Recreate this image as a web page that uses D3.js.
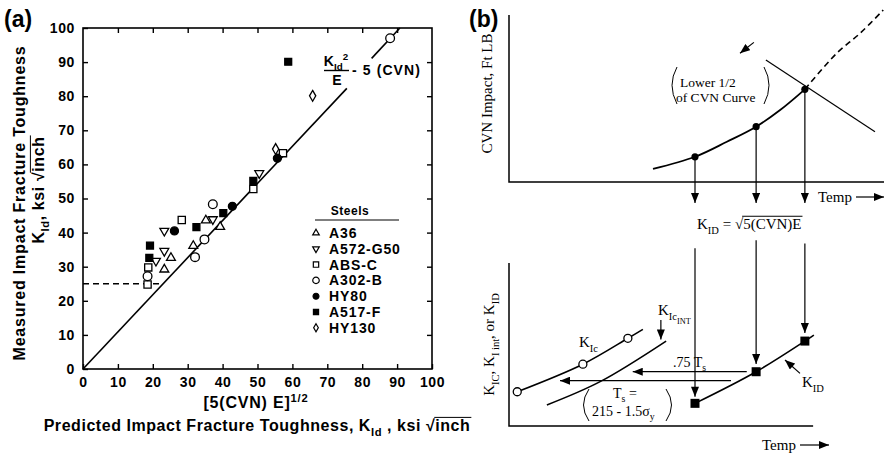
<!DOCTYPE html>
<html>
<head>
<meta charset="utf-8">
<script src="https://cdn.jsdelivr.net/npm/d3@7"></script>
<style>
body { margin: 0; background: #fff; }
svg text { fill: #000; white-space: pre; }
.sans { font-family: "Liberation Sans", Arial, sans-serif; font-weight: bold; }
.serif { font-family: "Liberation Serif", "Times New Roman", serif; }
</style>
</head>
<body>
<svg id="chart" width="884" height="453"></svg>
<script>
// ---- panel (a) data: measured vs predicted K_Id ----
const steels = ['A36', 'A572-G50', 'ABS-C', 'A302-B', 'HY80', 'A517-F', 'HY130'];
const a36 = [[35.2, 43.6], [39.3, 41.7], [31.6, 36.1], [25.2, 32.6], [23.3, 29.2]];
const a572 = [[23.3, 40.5], [37.2, 43.9], [23.3, 34.6], [20.9, 31.7], [50.5, 57.4]];
const absC = [[28.3, 43.7], [48.8, 52.8], [18.7, 29.8], [18.5, 24.8], [57.3, 63.3]];
const a302 = [[37.2, 48.3], [34.8, 38.0], [32.1, 32.8], [18.5, 27.2], [88.0, 97.0]];
const hy80 = [[26.2, 40.5], [42.8, 47.7], [55.7, 61.8]];
const a517 = [[32.5, 41.6], [40.2, 45.7], [48.8, 55.2], [19.2, 36.2], [19.0, 32.6], [58.8, 90.1]];
const hy130 = [[65.8, 80.1], [55.2, 64.5]];
const fitLine = [[0, 0], [75.6, 82.3]];
const fitLine2 = [[82.7, 91.1], [90.8, 100]];
const dashLine = [[0, 25], [22.5, 25]];
const ticksA = [0, 10, 20, 30, 40, 50, 60, 70, 80, 90, 100];

// ---- panel (b) schematic data (arbitrary temp / value units 0-100) ----
const cvnSolid = [[38.4, 7.8], [49.6, 15.1], [58.1, 24.1], [65.9, 33.1], [72.3, 43.1], [78.9, 55.5]];
const cvnDashed = [[78.9, 55.5], [87.4, 77.1], [93.6, 89.0], [99.8, 103]];
const shelfLine = [[68.5, 73.1], [97.6, 30.1]];
const cvnPoints = [[49.6, 15.1], [65.9, 33.1], [78.9, 55.5]];
const cvnArrowEnd = -12.6;
const lowerArrow = [[65.3, 83.6], [61.6, 77.1]];

const kidLine = [[49.6, 13.9], [65.9, 33.3], [78.9, 52.1], [81.3, 55.8]];
const kidSquares = [[49.6, 13.9], [65.9, 33.3], [78.9, 52.1]];
const kidArrowStart = [109, 114, 112];
const kidArrowEnd = [18, 38, 57];
const kicCurve = [[2.2, 21.0], [19.7, 37.9], [31.7, 53.8], [35.7, 59.3]];
const kicCircles = [[2.2, 21.0], [19.7, 37.9], [31.7, 53.8]];
const kicIntCurve = [[10.1, 12.9], [24.3, 27.2], [41.9, 52.1]];
const kicIntArrow = [[40.5, 65], [40.5, 53]];
const shiftArrows = [[[63.4, 33.3], [33.0, 33.3]], [[59.2, 27.8], [13.6, 27.8]]];
const kidLabelArrow = [[77.6, 32.3], [73.6, 40.5]];

const svg = d3.select('#chart');

// arrowhead
svg.append('defs').append('marker')
	.attr('id', 'head')
	.attr('viewBox', '0 0 10 8')
	.attr('refX', 10).attr('refY', 4)
	.attr('markerWidth', 11).attr('markerHeight', 8)
	.attr('markerUnits', 'userSpaceOnUse')
	.attr('orient', 'auto')
	.append('path').attr('d', 'M0,0L10,4L0,8Z').attr('fill', '#000');

// text with sub / superscripts
function richText(g, x, y, parts, cls, size, anchor, spacing) {
	const t = g.append('text').attr('x', x).attr('y', y)
		.attr('class', cls).attr('font-size', size)
		.attr('text-anchor', anchor || 'start')
		.attr('letter-spacing', spacing || 0);
	let shift = 0;
	parts.forEach(p => {
		const s = typeof p === 'string' ? p : p[0];
		const kind = typeof p === 'string' ? 'n' : p[1];
		const target = kind === 'sub' ? size * 0.3 : kind === 'sup' ? -size * 0.4 : kind === 'subsub' ? size * 0.6 : 0;
		const ts = t.append('tspan').text(s).attr('dy', target - shift);
		if (kind === 'sub' || kind === 'sup') ts.attr('font-size', size * 0.7);
		if (kind === 'subsub') ts.attr('font-size', size * 0.55);
		if (kind === 'over') ts.attr('class', 'over');
		shift = target;
	});
	return t;
}

// draw overline above tspans marked "over"
function overline(g, t, size) {
	t.selectAll('tspan.over').each(function() {
		const n = this.getNumberOfChars();
		const a = this.getStartPositionOfChar(0);
		const b = this.getEndPositionOfChar(n - 1);
		g.append('line')
			.attr('x1', a.x - 1).attr('x2', b.x + 1)
			.attr('y1', a.y - size * 0.85).attr('y2', a.y - size * 0.85)
			.attr('stroke', '#000').attr('stroke-width', 1);
	});
}

// ================= panel (a) =================
const xA = d3.scaleLinear().domain([0, 100]).range([83, 432]);
const yA = d3.scaleLinear().domain([0, 100]).range([369, 28]);
const ga = svg.append('g');

ga.append('rect')
	.attr('x', xA(0)).attr('y', yA(100))
	.attr('width', xA(100) - xA(0)).attr('height', yA(0) - yA(100))
	.attr('fill', 'none').attr('stroke', '#000').attr('stroke-width', 1.6);

ga.append('g').attr('transform', `translate(0,${yA(0)})`)
	.call(d3.axisBottom(xA).tickValues(ticksA).tickSizeInner(-5).tickSizeOuter(0).tickPadding(8));
ga.append('g').attr('transform', `translate(${xA(0)},0)`)
	.call(d3.axisLeft(yA).tickValues(ticksA).tickSizeInner(-5).tickSizeOuter(0).tickPadding(8));
ga.append('g').attr('transform', `translate(0,${yA(100)})`)
	.call(d3.axisTop(xA).tickValues(ticksA.slice(1, -1)).tickSizeInner(-5).tickSizeOuter(0).tickFormat(''));
ga.append('g').attr('transform', `translate(${xA(100)},0)`)
	.call(d3.axisRight(yA).tickValues(ticksA.slice(1, -1)).tickSizeInner(-5).tickSizeOuter(0).tickFormat(''));
ga.selectAll('.domain').remove();
ga.selectAll('.tick line').attr('stroke', '#000').attr('stroke-width', 1.4);
ga.selectAll('.tick text')
	.attr('class', 'sans').attr('font-size', 14).attr('letter-spacing', 0.6).attr('fill', '#000');

const lineA = d3.line().x(d => xA(d[0])).y(d => yA(d[1]));
ga.append('path').attr('d', lineA(fitLine)).attr('fill', 'none').attr('stroke', '#000').attr('stroke-width', 1.6);
ga.append('path').attr('d', lineA(fitLine2)).attr('fill', 'none').attr('stroke', '#000').attr('stroke-width', 1.6);
ga.append('path').attr('d', lineA(dashLine)).attr('fill', 'none').attr('stroke', '#000')
	.attr('stroke-width', 1.4).attr('stroke-dasharray', '6,4');

const seriesA = [a36, a572, absC, a302, hy80, a517, hy130];
const symType = [d3.symbolTriangle, d3.symbolTriangle, d3.symbolSquare, d3.symbolCircle, d3.symbolCircle, d3.symbolSquare, d3.symbolDiamond];
const symFill = [false, false, false, false, true, true, false];
const symRot = [0, 180, 0, 0, 0, 0, 0];
const symSize = [34, 34, 52, 60, 50, 48, 34];

seriesA.forEach((pts, i) => {
	ga.selectAll(null).data(pts).enter().append('path')
		.attr('d', d3.symbol().type(symType[i]).size(symSize[i]))
		.attr('transform', d => `translate(${xA(d[0])},${yA(d[1])}) rotate(${symRot[i]})`)
		.attr('fill', symFill[i] ? '#000' : '#fff')
		.attr('stroke', '#000').attr('stroke-width', 1.3);
});

// legend
const lg = ga.append('g');
lg.append('text').attr('class', 'sans').attr('font-size', 12).attr('letter-spacing', 0.5)
	.attr('x', 350).attr('y', 215).attr('text-anchor', 'middle').text('Steels');
lg.append('line').attr('x1', 315).attr('x2', 399).attr('y1', 220).attr('y2', 220)
	.attr('stroke', '#000').attr('stroke-width', 1.2);
steels.forEach((s, i) => {
	const y = 233 + i * 15.8;
	lg.append('path')
		.attr('d', d3.symbol().type(symType[i]).size(symSize[i] * 0.55))
		.attr('transform', `translate(316,${y}) rotate(${symRot[i]})`)
		.attr('fill', symFill[i] ? '#000' : '#fff')
		.attr('stroke', '#000').attr('stroke-width', 1.2);
	lg.append('text').attr('class', 'sans').attr('font-size', 14).attr('letter-spacing', 0.9)
		.attr('x', 329).attr('y', y + 5).text(s);
});

// equation label
richText(ga, 336, 66, ['K', ['Id', 'sub'], ['2', 'sup']], 'sans', 14, 'middle');
ga.append('line').attr('x1', 324).attr('x2', 349).attr('y1', 70.5).attr('y2', 70.5)
	.attr('stroke', '#000').attr('stroke-width', 1.4);
ga.append('text').attr('class', 'sans').attr('font-size', 14).attr('x', 337).attr('y', 85)
	.attr('text-anchor', 'middle').text('E');
ga.append('text').attr('class', 'sans').attr('font-size', 14).attr('letter-spacing', 1.1)
	.attr('x', 352).attr('y', 75).text('- 5 (CVN)');

// axis titles
ga.append('text').attr('class', 'sans').attr('font-size', 23).attr('x', 4).attr('y', 27).text('(a)');
ga.append('text').attr('class', 'sans').attr('font-size', 16).attr('letter-spacing', 0.8)
	.attr('transform', 'translate(25,203) rotate(-90)').attr('text-anchor', 'middle')
	.text('Measured Impact Fracture Toughness');
const yt2g = ga.append('g').attr('transform', 'translate(44,190) rotate(-90)');
const yt2 = richText(yt2g, 0, 0, ['K', ['Id', 'sub'], [', ksi √', 'n'], ['inch', 'over']], 'sans', 16, 'middle', 0.6);
overline(yt2g, yt2, 16);

richText(ga, 256, 408, ['[5(CVN) E]', ['1/2', 'sup']], 'sans', 16, 'middle', 0.8);
const xt2 = richText(ga, 257, 431, ['Predicted Impact Fracture Toughness, K', ['Id', 'sub'], [' , ksi √', 'n'], ['inch', 'over']], 'sans', 16, 'middle', 0.55);
overline(ga, xt2, 16);

// ================= panel (b) =================
const xB = d3.scaleLinear().domain([0, 100]).range([509, 884]);
const yB1 = d3.scaleLinear().domain([0, 100]).range([182, 15]);
const yB2 = d3.scaleLinear().domain([0, 100]).range([426, 263]);
const gb = svg.append('g');

gb.append('text').attr('class', 'sans').attr('font-size', 23).attr('x', 469).attr('y', 27).text('(b)');

// top plot frame
gb.append('path').attr('d', d3.line()([[xB(0), yB1(100)], [xB(0), yB1(0)], [xB(100), yB1(0)]]))
	.attr('fill', 'none').attr('stroke', '#000').attr('stroke-width', 1.5);
gb.append('text').attr('class', 'serif').attr('font-size', 15)
	.attr('transform', `translate(492,${yB1(53)}) rotate(-90)`).attr('text-anchor', 'middle')
	.text('CVN Impact, Ft LB');
gb.append('text').attr('class', 'serif').attr('font-size', 15).attr('x', 818).attr('y', 202).text('Temp');
gb.append('line').attr('x1', 856).attr('x2', 884).attr('y1', 197).attr('y2', 197)
	.attr('stroke', '#000').attr('stroke-width', 1.2).attr('marker-end', 'url(#head)');

const lineB1 = d3.line().x(d => xB(d[0])).y(d => yB1(d[1]));
gb.append('path').attr('d', lineB1.curve(d3.curveCatmullRom)(cvnSolid))
	.attr('fill', 'none').attr('stroke', '#000').attr('stroke-width', 1.8);
gb.append('path').attr('d', lineB1.curve(d3.curveCatmullRom)(cvnDashed))
	.attr('fill', 'none').attr('stroke', '#000').attr('stroke-width', 1.6).attr('stroke-dasharray', '6,4');
gb.append('path').attr('d', lineB1.curve(d3.curveLinear)(shelfLine))
	.attr('fill', 'none').attr('stroke', '#000').attr('stroke-width', 1.2);

cvnPoints.forEach(d => {
	gb.append('line')
		.attr('x1', xB(d[0])).attr('x2', xB(d[0]))
		.attr('y1', yB1(d[1])).attr('y2', yB1(cvnArrowEnd))
		.attr('stroke', '#000').attr('stroke-width', 1.2).attr('marker-end', 'url(#head)');
});
gb.selectAll(null).data(cvnPoints).enter().append('circle')
	.attr('cx', d => xB(d[0])).attr('cy', d => yB1(d[1])).attr('r', 3.6).attr('fill', '#000');

gb.append('line')
	.attr('x1', xB(lowerArrow[0][0])).attr('y1', yB1(lowerArrow[0][1]))
	.attr('x2', xB(lowerArrow[1][0])).attr('y2', yB1(lowerArrow[1][1]))
	.attr('stroke', '#000').attr('stroke-width', 1.2).attr('marker-end', 'url(#head)');
gb.append('text').attr('class', 'serif').attr('font-size', 13.5).attr('x', 680).attr('y', 87).text('Lower 1/2');
gb.append('text').attr('class', 'serif').attr('font-size', 13.5).attr('x', 676).attr('y', 102).text('of CVN Curve');
gb.append('path').attr('d', 'M677,67 Q667,85 677,104').attr('fill', 'none').attr('stroke', '#000');
gb.append('path').attr('d', 'M764,67 Q774,85 764,104').attr('fill', 'none').attr('stroke', '#000');

const kt = richText(gb, 697, 229, ['K', ['ID', 'sub'], [' = √', 'n'], ['5(CVN)E', 'over']], 'serif', 15, 'start');
overline(gb, kt, 15);

// bottom plot frame
gb.append('path').attr('d', d3.line()([[xB(0), yB2(100)], [xB(0), yB2(0)], [xB(81.1), yB2(0)]]))
	.attr('fill', 'none').attr('stroke', '#000').attr('stroke-width', 1.5);
richText(gb.append('g').attr('transform', `translate(494,${yB2(50)}) rotate(-90)`), 0, 0,
	['K', ['IC', 'sub'], ', K', ['I int', 'sub'], ', or K', ['ID', 'sub']], 'serif', 15, 'middle');
gb.append('text').attr('class', 'serif').attr('font-size', 15).attr('x', 762).attr('y', 450).text('Temp');
gb.append('line').attr('x1', 800).attr('x2', 829).attr('y1', 445).attr('y2', 445)
	.attr('stroke', '#000').attr('stroke-width', 1.2).attr('marker-end', 'url(#head)');

const lineB2 = d3.line().x(d => xB(d[0])).y(d => yB2(d[1]));
kidSquares.forEach((d, i) => {
	gb.append('line')
		.attr('x1', xB(d[0])).attr('x2', xB(d[0]))
		.attr('y1', yB2(kidArrowStart[i])).attr('y2', yB2(kidArrowEnd[i]))
		.attr('stroke', '#000').attr('stroke-width', 1.2).attr('marker-end', 'url(#head)');
});
gb.append('path').attr('d', lineB2.curve(d3.curveCatmullRom)(kidLine))
	.attr('fill', 'none').attr('stroke', '#000').attr('stroke-width', 1.6);
gb.append('path').attr('d', lineB2.curve(d3.curveCatmullRom)(kicCurve))
	.attr('fill', 'none').attr('stroke', '#000').attr('stroke-width', 1.6);
gb.append('path').attr('d', lineB2.curve(d3.curveCatmullRom)(kicIntCurve))
	.attr('fill', 'none').attr('stroke', '#000').attr('stroke-width', 1.6);
gb.selectAll(null).data(kidSquares).enter().append('rect')
	.attr('x', d => xB(d[0]) - 4.5).attr('y', d => yB2(d[1]) - 4.5)
	.attr('width', 9).attr('height', 9).attr('fill', '#000');
gb.selectAll(null).data(kicCircles).enter().append('circle')
	.attr('cx', d => xB(d[0])).attr('cy', d => yB2(d[1])).attr('r', 4)
	.attr('fill', '#fff').attr('stroke', '#000').attr('stroke-width', 1.3);

[kicIntArrow, kidLabelArrow].concat(shiftArrows).forEach(a => {
	gb.append('line')
		.attr('x1', xB(a[0][0])).attr('y1', yB2(a[0][1]))
		.attr('x2', xB(a[1][0])).attr('y2', yB2(a[1][1]))
		.attr('stroke', '#000').attr('stroke-width', 1.2).attr('marker-end', 'url(#head)');
});

richText(gb, 579, 347, ['K', ['Ic', 'sub']], 'serif', 15, 'start');
richText(gb, 658, 315, ['K', ['Ic', 'sub'], ['INT', 'subsub']], 'serif', 15, 'start');
richText(gb, 673, 367, ['.75 T', ['s', 'sub']], 'serif', 14, 'start');
richText(gb, 802, 387, ['K', ['ID', 'sub']], 'serif', 15, 'start');
richText(gb, 613, 398, ['T', ['s', 'sub'], ' ='], 'serif', 14, 'start');
richText(gb, 592, 416, ['215 - 1.5σ', ['y', 'sub']], 'serif', 14, 'start');
gb.append('path').attr('d', 'M589,389 Q578,405 589,421').attr('fill', 'none').attr('stroke', '#000');
gb.append('path').attr('d', 'M666,389 Q677,405 666,421').attr('fill', 'none').attr('stroke', '#000');
</script>
</body>
</html>
